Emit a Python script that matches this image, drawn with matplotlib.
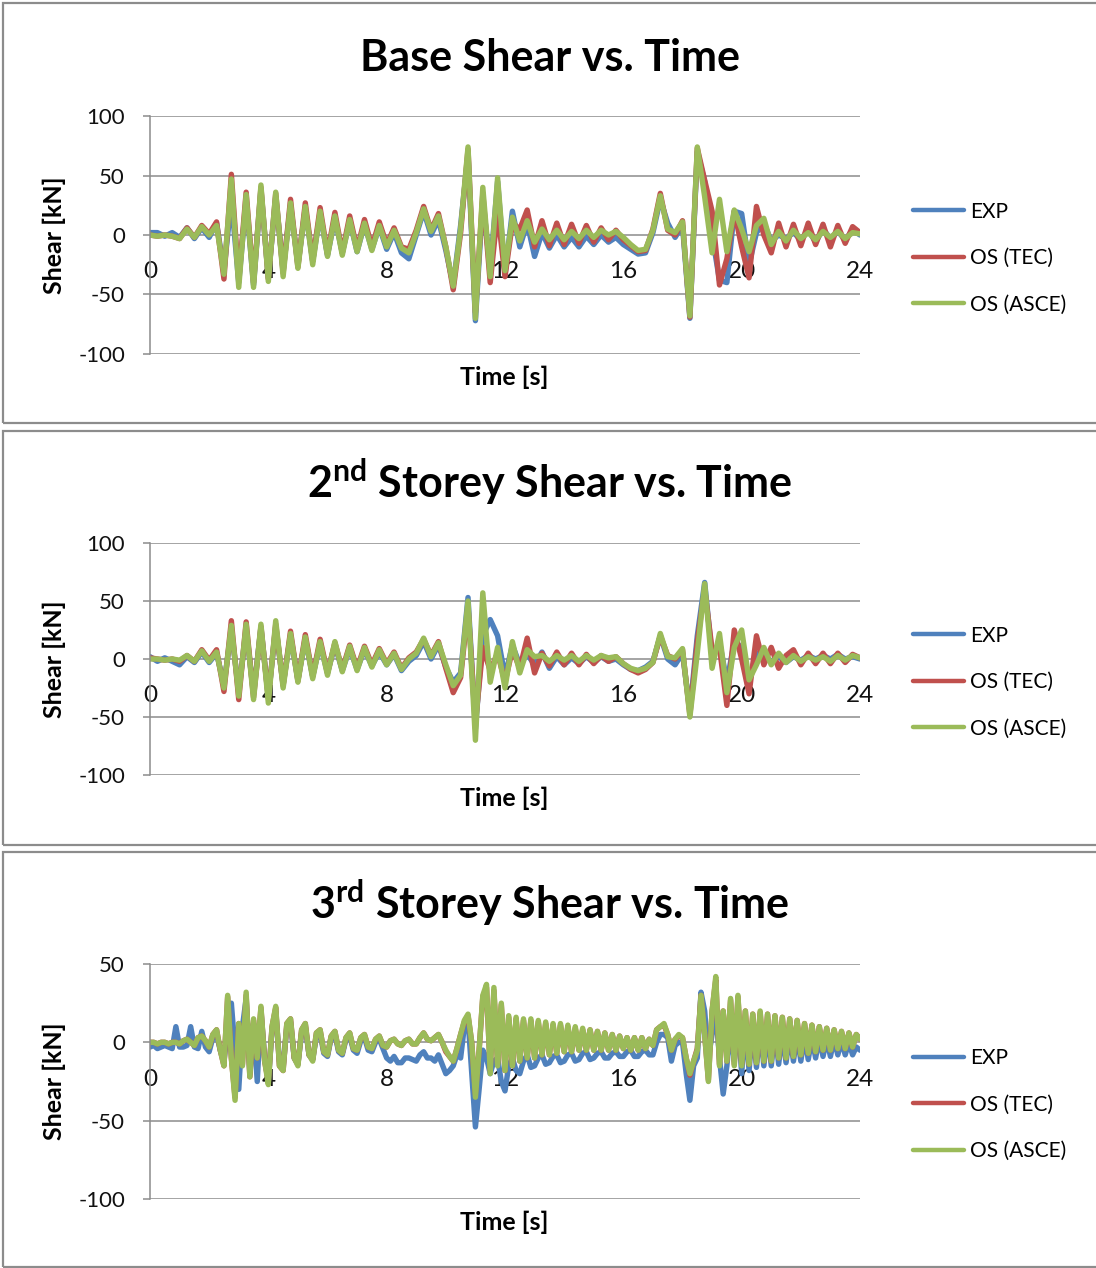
import numpy as np
import matplotlib
matplotlib.use("Agg")
import matplotlib.pyplot as plt
from matplotlib.patches import Rectangle

plt.rcParams["font.family"] = ["Lato", "DejaVu Sans"]
plt.rcParams["mathtext.fontset"] = "custom"
plt.rcParams["mathtext.rm"] = "Lato"
plt.rcParams["mathtext.bf"] = "Lato:bold"
plt.rcParams["axes.unicode_minus"] = False

# sample times [s]: 0.25 s readings, 0.125 s for the noisier 3rd storey records
TIME = np.arange(0, 24.01, 0.25)
TIME_FINE = np.arange(0, 24.001, 0.125)
XTICKS = [0, 4, 8, 12, 16, 20, 24]
LABELS = ["EXP", "OS (TEC)", "OS (ASCE)"]
COLORS = ["#4F81BD", "#C0504D", "#9BBB59"]

# --- base shear [kN] ---
base_exp = [
    2, 2, -1, 2, -2, 6, -3, 6,
    -2, 10, -30, 30, -40, 30, -42, 38,
    -36, 32, -30, 25, -25, 22, -22, 18,
    -17, 14, -15, 12, -14, 9, -12, 7,
    -12, 2, -15, -20, 0, 20, 0, 13,
    -13, -42, 8, 68, -72, 30, -29, 45,
    -33, 20, -10, 10, -18, 2, -11, 0,
    -10, -2, -10, -1, -8, 0, -6, -2,
    -8, -12, -16, -15, 2, 30, 10, -2,
    8, -70, 70, 45, 0, -38, -40, 20,
    18, -25, 2, 10, -5, 0, -3, 2,
    -4, 4, -6, 5, -3, 3, -4, 4,
    0]
base_tec = [
    0, -1, 0, -1, -3, 6, -2, 8,
    1, 11, -37, 51, -38, 36, -40, 40,
    -37, 35, -32, 30, -27, 27, -22, 23,
    -16, 19, -15, 16, -12, 13, -10, 11,
    -8, 6, -10, -12, 4, 24, 4, 18,
    -10, -46, 2, 72, -65, 35, -40, 20,
    -35, 10, 5, 21, -10, 12, -9, 10,
    -8, 9, -7, 8, -6, 6, -4, 4,
    -4, -9, -14, -13, 5, 35, 4, 0,
    12, -69, 73, 46, 20, -42, -20, 20,
    -10, -36, 24, 0, -15, 10, -10, 9,
    -9, 10, -8, 9, -10, 8, -7, 7,
    2]
base_asce = [
    0, -1, 0, -1, -3, 5, -2, 7,
    0, 8, -33, 47, -44, 34, -44, 42,
    -39, 36, -35, 27, -28, 24, -25, 20,
    -18, 16, -17, 13, -14, 10, -13, 8,
    -10, 4, -11, -15, 2, 22, 3, 16,
    -10, -43, 5, 74, -70, 40, -35, 48,
    -30, 15, -5, 12, -6, 5, -4, 4,
    -4, 3, -3, 4, -2, 4, 0, 3,
    -2, -8, -13, -12, 4, 33, 5, 2,
    11, -68, 74, 32, -15, 30, -14, 21,
    5, -14, 8, 14, -8, 3, -5, 4,
    -3, 2, -4, 3, -2, 3, -3, 2,
    1]

# --- 2nd storey shear [kN] ---
st2_exp = [
    2, -2, 1, -2, -5, 2, -3, 6,
    -3, 5, -22, 25, -28, 26, -30, 27,
    -33, 28, -22, 20, -18, 17, -15, 13,
    -12, 12, -10, 9, -9, 8, -6, 6,
    -5, 4, -10, -2, 3, 15, 0, 12,
    -7, -20, -12, 53, -60, 20, 34, 20,
    -15, 12, -5, 4, -5, 6, -8, 2,
    -5, 1, -4, 2, -3, 2, -2, 0,
    -5, -9, -10, -7, -2, 20, 0, -5,
    5, -45, 20, 66, 2, 15, -20, 15,
    10, -18, 5, 3, -2, 2, -3, 2,
    -1, 3, 0, 3, 0, 4, 0, 2,
    0]
st2_tec = [
    1, 0, -1, 0, -2, 3, -2, 8,
    -1, 8, -28, 33, -35, 32, -33, 28,
    -34, 30, -23, 24, -19, 21, -15, 17,
    -12, 14, -9, 12, -8, 11, -5, 9,
    -4, 6, -8, 1, 6, 17, 3, 15,
    -8, -29, -16, 45, -55, 10, -10, 5,
    -20, 8, -8, 18, -12, 5, -6, 6,
    -5, 5, -5, 4, -4, 3, -2, 2,
    -4, -9, -12, -9, -3, 20, 3, 0,
    8, -48, 15, 60, 8, 10, -40, 25,
    0, -30, 20, -5, 10, -8, 3, 8,
    -5, 5, -4, 5, -4, 5, -3, 4,
    1]
st2_asce = [
    0, 0, -1, 0, -1, 3, -2, 7,
    -2, 6, -25, 29, -32, 30, -35, 30,
    -38, 33, -25, 22, -20, 19, -17, 15,
    -14, 15, -11, 11, -10, 10, -7, 8,
    -5, 5, -9, 0, 5, 18, 2, 14,
    -5, -23, -14, 50, -70, 57, -20, 10,
    -25, 15, -12, 8, 2, 3, -2, 3,
    -1, 3, -2, 3, -1, 3, 1, 2,
    -4, -8, -10, -8, -3, 22, 2, 1,
    9, -50, 5, 65, -8, 22, -29, 10,
    25, -18, -5, 10, -5, 5, -3, 3,
    -2, 2, -1, 2, -2, 3, -1, 3,
    1]

# --- 3rd storey shear [kN], all three on the 0.125 s grid ---
st3_exp = [
    -3, -2, -4, -3, -2, -3, -4, 10,
    -3, -3, -2, 10, -3, -4, 7, -3,
    -6, 3, 5, -5, -12, 8, 25, -5,
    -30, 10, 28, -20, 12, -25, 20, -10,
    -25, 8, 20, -12, -16, 10, 13, -10,
    -14, 6, 10, -8, -11, 4, 6, -7,
    -9, 3, 5, -6, -8, 2, 4, -5,
    -7, 1, 3, -5, -6, 0, 2, -4,
    -10, -12, -9, -13, -13, -10, -10, -11,
    -12, -8, -6, -10, -10, -12, -8, -14,
    -20, -18, -15, -8, -10, 10, 15, -20,
    -54, -30, -5, -10, -20, -12, -10, -25,
    -31, -15, -10, -18, -20, -12, -8, -16,
    -15, -10, -8, -14, -13, -9, -8, -13,
    -12, -8, -7, -12, -11, -7, -6, -11,
    -10, -7, -6, -10, -10, -7, -6, -9,
    -9, -6, -5, -9, -9, -6, -5, -8,
    -8, 0, 5, 5, 3, -12, -2, 0,
    0, -20, -37, -15, -10, 32, 20, -10,
    5, 20, -10, -33, -15, 10, -12, 15,
    -20, 12, -18, 10, -16, 10, -15, 8,
    -15, 8, -14, 6, -13, 5, -12, 5,
    -12, 4, -11, 3, -10, 3, -9, 2,
    -9, 2, -8, 1, -8, 0, -8, -3,
    -5]
st3_tec = [
    0, 0, -1, 0, 0, -1, 0, 0,
    -1, 1, 2, 0, -2, 3, 4, 1,
    -3, 5, 8, -5, -15, 29, -10, -35,
    12, -14, 30, -22, 14, -10, 22, -12,
    -25, 10, 22, -15, -18, 12, 15, -10,
    -14, 8, 12, -8, -11, 6, 8, -6,
    -8, 4, 7, -5, -7, 3, 6, -4,
    -5, 3, 5, -3, -4, 2, 4, -2,
    -3, 1, 2, -1, -2, 1, 2, -1,
    -1, 3, 6, 2, 1, 3, 5, 0,
    -6, -9, -12, -4, 5, 13, 17, 0,
    -33, -5, 29, 35, -18, 33, -14, 24,
    -18, 16, -15, 15, -12, 14, -10, 14,
    -10, 13, -8, 12, -8, 11, -7, 11,
    -6, 10, -6, 9, -5, 8, -5, 8,
    -5, 7, -5, 6, -5, 5, -5, 4,
    -4, 3, -5, 3, -5, 3, -4, 2,
    -2, 8, 10, 11, 5, -5, 2, 4,
    3, -10, -21, -12, -4, 30, 5, -24,
    20, 40, -14, 20, -12, 27, -14, 29,
    -14, 20, -14, 18, -13, 19, -12, 18,
    -12, 17, -10, 16, -10, 15, -9, 14,
    -8, 12, -7, 11, -6, 10, -5, 9,
    -5, 8, -4, 7, -4, 6, -3, 5,
    2]
st3_asce = [
    0, 0, -1, 0, 0, -1, 0, 0,
    -1, 1, 2, 0, -2, 3, 4, 1,
    -3, 5, 8, -5, -15, 30, -10, -37,
    12, -15, 32, -22, 15, -10, 23, -12,
    -27, 10, 23, -15, -18, 12, 15, -10,
    -15, 8, 12, -8, -12, 6, 8, -6,
    -8, 4, 7, -5, -7, 3, 6, -4,
    -5, 3, 5, -3, -4, 2, 4, -2,
    -3, 1, 2, -1, -2, 1, 2, -1,
    -1, 3, 6, 2, 1, 3, 5, 0,
    -5, -9, -12, -4, 5, 14, 18, 0,
    -35, -5, 30, 37, -20, 35, -15, 25,
    -18, 17, -15, 16, -12, 15, -10, 15,
    -10, 14, -8, 13, -8, 12, -7, 12,
    -6, 11, -6, 10, -5, 9, -5, 8,
    -5, 7, -5, 6, -5, 5, -5, 4,
    -4, 3, -5, 3, -5, 3, -4, 2,
    -2, 8, 10, 12, 5, -5, 2, 5,
    3, -10, -20, -12, -5, 30, 5, -25,
    20, 42, -15, 20, -12, 28, -15, 30,
    -15, 20, -14, 18, -13, 20, -12, 18,
    -12, 17, -10, 16, -10, 15, -9, 14,
    -8, 12, -7, 11, -6, 10, -5, 9,
    -5, 8, -4, 7, -4, 6, -3, 5,
    2]

W, H = 1096, 1268
fig = plt.figure(figsize=(W / 100, H / 100), dpi=100)


def fx(px):
    return px / W


def fy(py):
    return 1 - py / H


def panel(title, series, ylim, yticks, ax_top, ax_bot, box_top, box_bot):
    # grey frame around each chart
    fig.add_artist(Rectangle((fx(3), fy(box_bot)), fx(1110), (box_bot - box_top) / H,
                             transform=fig.transFigure, fill=False,
                             edgecolor="#8c8c8c", lw=1.6))
    ax = fig.add_axes([fx(150), fy(ax_bot), fx(710), (ax_bot - ax_top) / H])
    for (t, vals), lab, col in zip(series, LABELS, COLORS):
        ax.plot(t, vals, color=col, lw=3.9, label=lab,
                solid_joinstyle="round", solid_capstyle="round")
    ax.set_xlim(0, 24)
    ax.set_ylim(*ylim)
    ax.set_xticks(XTICKS)
    ax.set_yticks(yticks)
    ax.grid(axis="y", color="#8c8c8c", lw=1.1)
    for s in ("top", "right"):
        ax.spines[s].set_visible(False)
    ax.spines["bottom"].set_position(("data", 0))
    ax.spines["bottom"].set_visible(False)
    ax.spines["left"].set_color("#8c8c8c")
    ax.spines["left"].set_linewidth(1.1)
    ax.tick_params(axis="y", length=5, width=1.1, color="#8c8c8c", pad=13,
                   labelsize=16, labelcolor="#111111")
    ax.tick_params(axis="x", length=0, pad=19, labelsize=17.5, labelcolor="#111111")

    mid = (ax_top + ax_bot) / 2
    fig.text(fx(550), fy(ax_top - 45), title, ha="center", va="baseline",
             fontsize=31, fontweight="bold")
    fig.text(fx(504), fy(ax_bot + 31), "Time [s]", ha="center", va="baseline",
             fontsize=18, fontweight="bold")
    fig.text(fx(54), fy(mid), "Shear [kN]", ha="center", va="center",
             rotation=90, fontsize=18, fontweight="bold")
    leg = ax.legend(loc="center left", bbox_to_anchor=(fx(903), fy(mid + 23)),
                    bbox_transform=fig.transFigure, frameon=False, fontsize=15,
                    borderpad=0, handlelength=2.45, handletextpad=0.25,
                    labelspacing=1.27)
    for h in leg.get_lines():
        h.set_linewidth(3.2)
    return ax


panel("Base Shear vs. Time",
      [(TIME, base_exp), (TIME, base_tec), (TIME, base_asce)],
      (-100, 100), [-100, -50, 0, 50, 100], 116, 354, 3, 423)
panel(r"2$^{\mathbf{nd}}$ Storey Shear vs. Time",
      [(TIME, st2_exp), (TIME, st2_tec), (TIME, st2_asce)],
      (-100, 100), [-100, -50, 0, 50, 100], 543, 775, 431, 845)
panel(r"3$^{\mathbf{rd}}$ Storey Shear vs. Time",
      [(TIME_FINE, st3_exp), (TIME_FINE, st3_tec), (TIME_FINE, st3_asce)],
      (-100, 50), [-100, -50, 0, 50], 964, 1199, 852, 1267)

fig.savefig("out.png", dpi=100)
